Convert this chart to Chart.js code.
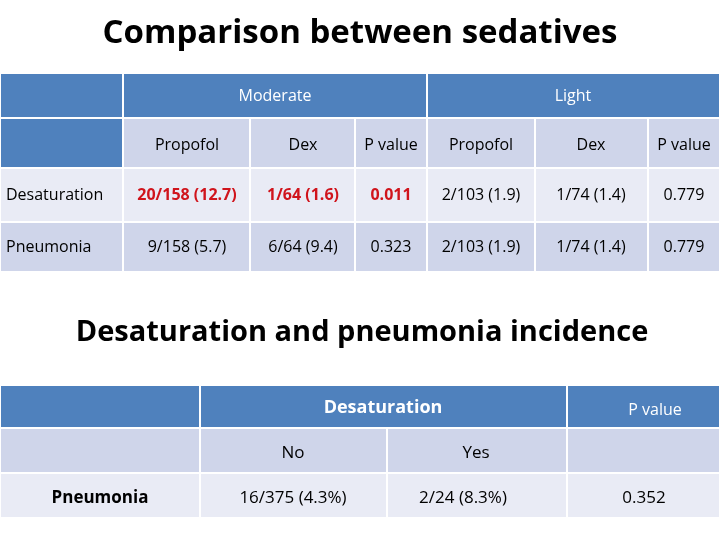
<!DOCTYPE html>
<html><head><meta charset="utf-8">
<script src="https://cdn.jsdelivr.net/npm/chart.js@4"></script>
<style>body{margin:0;background:#fff}canvas{display:block}</style>
</head><body>
<canvas id="c" width="720" height="540"></canvas>
<script>
// table contents
const groups = ['Moderate', 'Light'];
const subCols = ['Propofol', 'Dex', 'P value', 'Propofol', 'Dex', 'P value'];
const rowLabels = ['Desaturation', 'Pneumonia'];
const desatValues = ['20/158 (12.7)', '1/64 (1.6)', '0.011', '2/103 (1.9)', '1/74 (1.4)', '0.779'];
const pneuValues = ['9/158 (5.7)', '6/64 (9.4)', '0.323', '2/103 (1.9)', '1/74 (1.4)', '0.779'];
const desatHighlight = [true, true, true, false, false, false];
const incidenceCols = ['No', 'Yes'];
const incidenceRow = ['Pneumonia', '16/375 (4.3%)', '2/24 (8.3%)', '0.352'];

const BLUE = '#4f81bd', DARK = '#cfd5ea', LIGHT = '#e9ebf5';
const FONT = '"Open Sans", "Noto Sans", sans-serif';
const xs1 = [0, 123, 250, 355, 427, 535, 648, 720];
const ys1 = [73, 118, 168, 222, 272];
const xs2 = [0, 200, 387, 567, 720];
const ys2 = [385, 428, 473, 518];

const tablePlugin = {
    id: 'table',
    afterDraw(chart) {
        const ctx = chart.ctx, sx = chart.scales.x, sy = chart.scales.y;
        const X = v => sx.getPixelForValue(v), Y = v => sy.getPixelForValue(v);
        function cell(x0, x1, y0, y1, fill) {
            ctx.fillStyle = fill;
            ctx.fillRect(X(x0), Y(y0), X(x1) - X(x0), Y(y1) - Y(y0));
            ctx.strokeStyle = '#fff'; ctx.lineWidth = 2;
            ctx.strokeRect(X(x0), Y(y0), X(x1) - X(x0), Y(y1) - Y(y0));
        }
        function text(s, x, y, color, size, bold, align) {
            ctx.fillStyle = color;
            ctx.font = (bold ? 'bold ' : '') + size + 'px ' + FONT;
            ctx.textAlign = align || 'center'; ctx.textBaseline = 'middle';
            ctx.fillText(s, X(x), Y(y));
        }
        ctx.save();
        text('Comparison between sedatives', 360, 34, '#000', 33, true);
        // table 1
        cell(xs1[0], xs1[1], ys1[0], ys1[1], BLUE);
        cell(xs1[1], xs1[4], ys1[0], ys1[1], BLUE);
        cell(xs1[4], xs1[7], ys1[0], ys1[1], BLUE);
        text(groups[0], 275, 96, '#fff', 16, false);
        text(groups[1], 573, 96, '#fff', 16, false);
        cell(xs1[0], xs1[1], ys1[1], ys1[2], BLUE);
        const centers1 = [187, 303, 391, 481, 591, 684];
        subCols.forEach((s, i) => {
            cell(xs1[i + 1], xs1[i + 2], ys1[1], ys1[2], DARK);
            text(s, centers1[i], 145, '#000', 16, false);
        });
        const rows = [desatValues, pneuValues];
        rows.forEach((vals, r) => {
            const fill = r === 0 ? LIGHT : DARK;
            const y0 = ys1[r + 2], y1 = ys1[r + 3], ym = (y0 + y1) / 2;
            cell(xs1[0], xs1[1], y0, y1, fill);
            text(rowLabels[r], 6, ym, '#000', 16, false, 'left');
            vals.forEach((v, i) => {
                cell(xs1[i + 1], xs1[i + 2], y0, y1, fill);
                const red = r === 0 && desatHighlight[i];
                text(v, centers1[i], ym, red ? '#d0141c' : '#000', 16, red);
            });
        });
        // table 2
        text('Desaturation and pneumonia incidence', 362, 333, '#000', 29, true);
        cell(xs2[0], xs2[1], ys2[0], ys2[1], BLUE);
        cell(xs2[1], xs2[3], ys2[0], ys2[1], BLUE);
        cell(xs2[3], xs2[4], ys2[0], ys2[1], BLUE);
        text('Desaturation', 383, 408, '#fff', 18, true);
        text('P value', 655, 410, '#fff', 16, false);
        for (let i = 0; i < 4; i++) cell(xs2[i], xs2[i + 1], ys2[1], ys2[2], DARK);
        text(incidenceCols[0], 293, 453, '#000', 17, false);
        text(incidenceCols[1], 476, 453, '#000', 17, false);
        const centers2 = [100, 293, 463, 644];
        incidenceRow.forEach((v, i) => {
            cell(xs2[i], xs2[i + 1], ys2[2], ys2[3], LIGHT);
            text(v, centers2[i], 498, '#000', 17, i === 0);
        });
        ctx.restore();
    }
};

new Chart(document.getElementById('c'), {
    type: 'scatter',
    data: { datasets: [{ data: [] }] },
    options: {
        responsive: false,
        animation: false,
        layout: { padding: 0 },
        plugins: { legend: { display: false }, tooltip: { enabled: false } },
        scales: {
            x: { type: 'linear', min: 0, max: 720, display: false },
            y: { type: 'linear', min: 0, max: 540, reverse: true, display: false }
        }
    },
    plugins: [tablePlugin]
});
</script>
</body></html>
